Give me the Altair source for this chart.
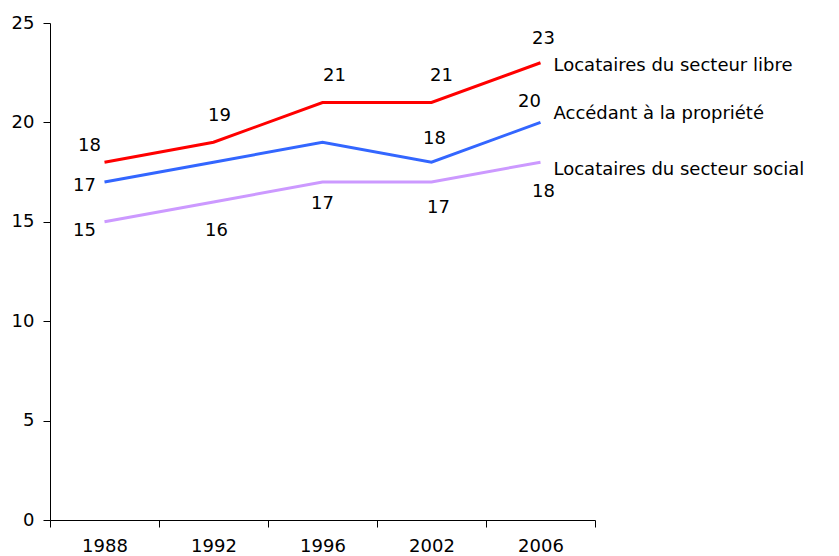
import altair as alt
import pandas as pd

years = ["1988", "1992", "1996", "2002", "2006"]
series_names = ["Locataires du secteur libre", "Accédant à la propriété", "Locataires du secteur social"]
libre = [18, 19, 21, 21, 23]
accedant = [17, 18, 19, 18, 20]
social = [15, 16, 17, 17, 18]
colors = ["#FF0000", "#3366FF", "#CC99FF"]

rows = []
for name, vals in zip(series_names, [libre, accedant, social]):
    for y, v in zip(years, vals):
        rows.append({"year": y, "value": v, "series": name})
df = pd.DataFrame(rows)

FONT = "DejaVu Sans"
FS = 18

# label placement style: (series index, year, dx, dy)
label_style = [
    (0, "1988", -15, -16), (0, "1992", 6, -26), (0, "1996", 12, -27),
    (0, "2002", 10, -27), (0, "2006", 3, -24),
    (1, "1988", -20, 4), (1, "2002", 3, -23), (1, "2006", -11, -20),
    (2, "1988", -20, 9), (2, "1992", 3, 29), (2, "1996", 0, 22),
    (2, "2002", 7, 26), (2, "2006", 3, 30),
]
name_style = [(0, 3), (1, -8), (2, 8)]

x_enc = alt.X("year:O", sort=years, title=None,
              scale=alt.Scale(type="band", paddingInner=0, paddingOuter=0),
              axis=alt.Axis(tickBand="extent", labelAngle=0, labelPadding=10,
                            tickSize=7, domainColor="black", tickColor="black",
                            labelFont=FONT, labelFontSize=FS, labelColor="black"))
y_enc = alt.Y("value:Q", title=None, scale=alt.Scale(domain=[0, 25], nice=False),
              axis=alt.Axis(values=[0, 5, 10, 15, 20, 25], grid=False, tickSize=7,
                            labelPadding=9, domainColor="black", tickColor="black",
                            labelFont=FONT, labelFontSize=FS, labelColor="black"))

base = alt.Chart(df)
lines = base.mark_line(strokeWidth=3).encode(
    x=x_enc, y=y_enc,
    color=alt.Color("series:N", scale=alt.Scale(domain=series_names, range=colors), legend=None),
)

layers = [lines]
for si, yr, dx, dy in label_style:
    layers.append(
        base.transform_filter((alt.datum.series == series_names[si]) & (alt.datum.year == yr))
        .mark_text(dx=dx, dy=dy, font=FONT, fontSize=FS, color="black")
        .encode(x=x_enc, y=y_enc, text="value:Q")
    )
for si, dy in name_style:
    layers.append(
        base.transform_filter((alt.datum.series == series_names[si]) & (alt.datum.year == years[-1]))
        .mark_text(dx=13, dy=dy, align="left", font=FONT, fontSize=FS, color="black")
        .encode(x=x_enc, y=y_enc, text="series:N")
    )

chart = alt.layer(*layers).properties(
    width=545, height=497,
    background="white",
    autosize=alt.AutoSizeParams(type="none"),
    padding={"left": 42, "top": 15, "right": 236, "bottom": 36},
).configure_view(strokeWidth=0, stroke="transparent")

chart.save("out.html", embed_options={"renderer": "svg", "actions": False})
